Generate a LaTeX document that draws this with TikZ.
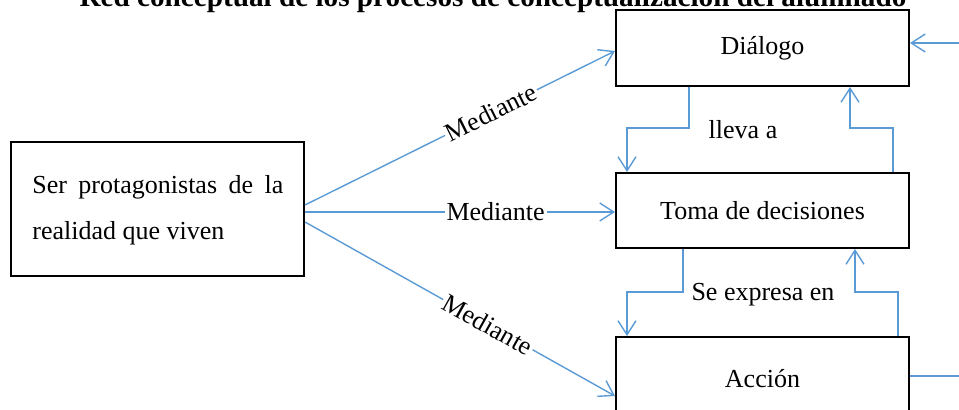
\documentclass[tikz,border=0pt]{standalone}
\usepackage{fontspec}
\setmainfont{Liberation Serif}
\usetikzlibrary{arrows.meta}
\definecolor{conblue}{HTML}{5B9BD5}
\tikzset{
  box/.style={draw=black, line width=1pt, minimum width=146.5pt, inner sep=0pt, font=\fontsize{13}{15}\selectfont},
  conn/.style={draw=conblue, line width=0.7pt, -{Straight Barb[length=7pt,width=9pt]}},
  lbl/.style={fill=white, inner sep=1pt, font=\fontsize{13}{15}\selectfont},
  txt/.style={inner sep=0pt, font=\fontsize{13}{15}\selectfont}
}
\begin{document}
\begin{tikzpicture}[x=0.5pt, y=-0.5pt]
\useasboundingbox (0,0) rectangle (959,410);
\node[inner sep=0pt, anchor=base, font=\fontsize{14.6}{17}\bfseries\selectfont] (title) at (493,7) {Red conceptual de los procesos de conceptualización del alumnado};
\node[box, minimum height=67pt] (left) at (157.5,209) {};
\node[txt, anchor=base west] (l1) at (32,194) {\makebox[125.5pt][s]{Ser\ protagonistas\ de\ la}};
\node[txt, anchor=base west] (l2) at (32,240) {realidad que viven};
\node[box, minimum height=38pt] (dialogo) at (762.5,48) {Diálogo};
\node[box, minimum height=37.5pt] (toma) at (762.5,210.5) {Toma de decisiones};
\node[box, minimum height=41.5pt] (accion) at (762.5,378.5) {Acción};
% Mediante connectors
\draw[conn] (left.east |- 0,205) -- node[lbl, sloped, pos=0.6] (m1) {Mediante} (dialogo.west |- 0,51);
\draw[conn] (left.east |- 0,212) -- node[lbl, pos=0.615] (m2) {Mediante} (toma.west |- 0,212);
\draw[conn] (left.east |- 0,222) -- node[lbl, sloped, pos=0.59] (m3) {Mediante} (accion.west |- 0,396);
% Dialogo <-> Toma
\draw[conn] (dialogo.south -| 689,0) -- (689,128) -- (627,128) -- (toma.north -| 627,0);
\draw[conn] (toma.north -| 893,0) -- (893,128) -- (850,128) -- (dialogo.south -| 850,0);
\node[txt] (lleva) at (743,130) {lleva a};
% Toma <-> Accion
\draw[conn] (toma.south -| 683,0) -- (683,292) -- (627,292) -- (accion.north -| 627,0);
\draw[conn] (accion.north -| 898,0) -- (898,292) -- (855,292) -- (toma.south -| 855,0);
\node[txt] (expresa) at (763,295) {Se expresa en};
% Accion -> Dialogo loop on the right
\draw[conn] (accion.east |- 0,376) -- (980,376) -- (980,43) -- (dialogo.east |- 0,43);
\end{tikzpicture}
\end{document}
